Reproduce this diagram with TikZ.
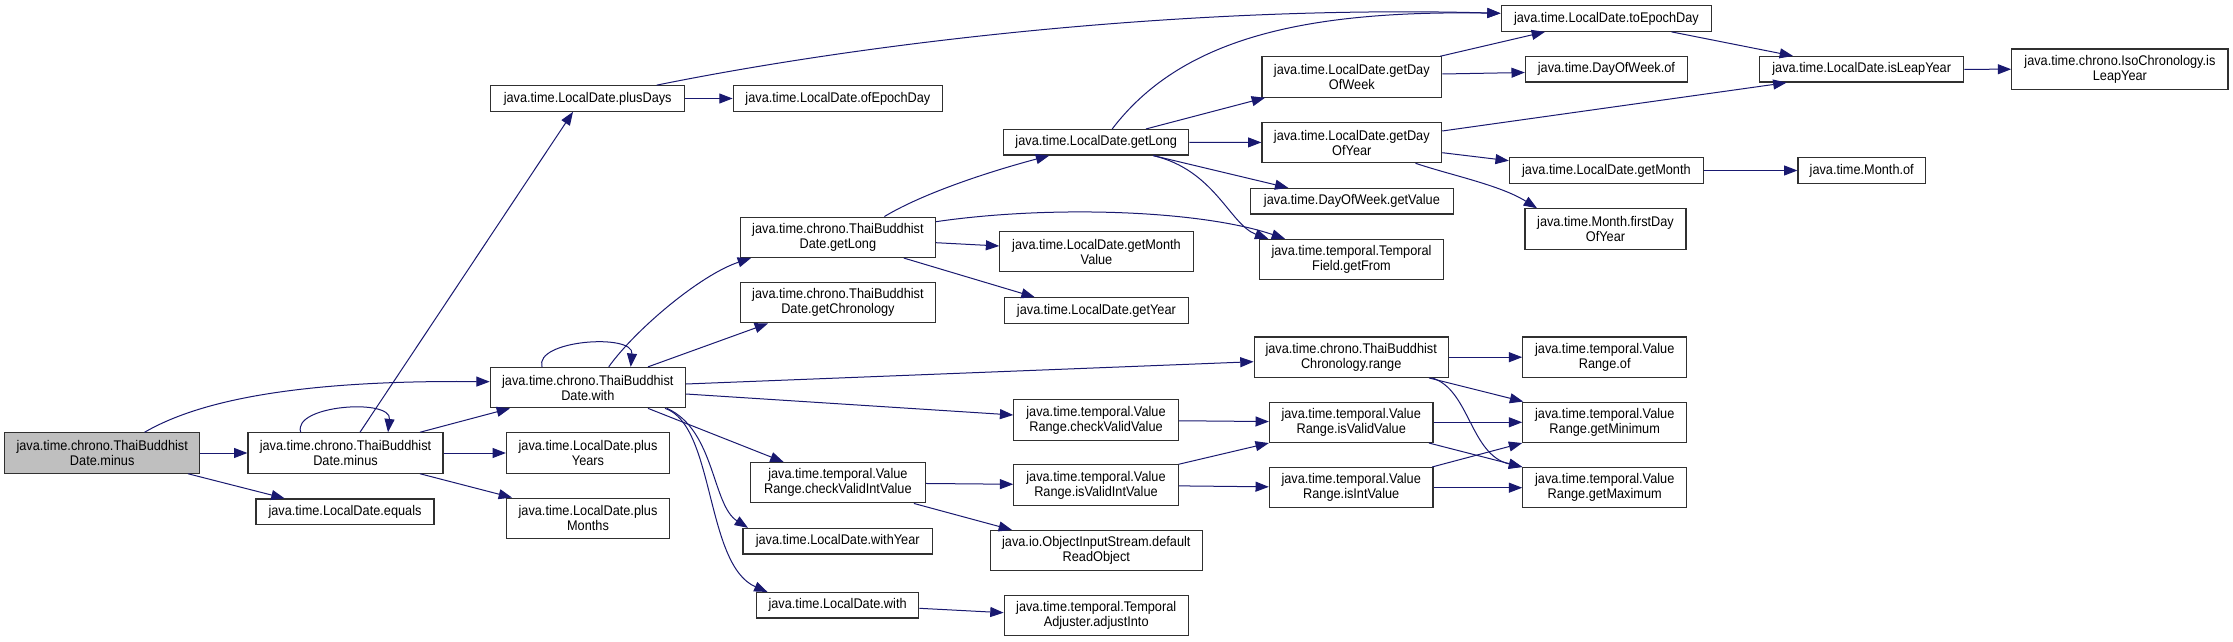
\documentclass[tikz,border=0pt]{standalone}
\usepackage{fontspec}
\setmainfont{Liberation Sans}[FakeStretch=0.91]
\usetikzlibrary{arrows.meta,calc}
\definecolor{edgec}{HTML}{191970}
\definecolor{boxc}{HTML}{303030}
\definecolor{rootc}{HTML}{BFBFBF}
\begin{document}
\begin{tikzpicture}[x=0.75pt,y=-0.75pt,
 box/.style={draw=boxc,line width=0.9pt,fill=white,inner sep=0pt,align=center,font=\fontsize{10.5}{11.25}\selectfont},
 bw/.style={minimum width=#1*0.75pt},
 lineone/.style={minimum height=25.5*0.75pt},
 linetwo/.style={minimum height=40.3*0.75pt},
 conn/.style={draw=edgec,line width=0.75pt,-{Triangle[length=10pt,width=7.5pt]}}
]
\useasboundingbox (0,0) rectangle (2233,642);
\fill[white] (0,0) rectangle (2233,642);

\node[box,bw=195.2,linetwo,fill=rootc] (m0) at (102.2,453) {java.time.chrono.ThaiBuddhist\\Date.minus};
\node[box,bw=195,linetwo] (m1) at (345.5,453) {java.time.chrono.ThaiBuddhist\\Date.minus};
\node[box,bw=178,lineone] (eq) at (345,511.7) {java.time.LocalDate.equals};
\node[box,bw=195,linetwo] (with) at (587.8,387.6) {java.time.chrono.ThaiBuddhist\\Date.with};
\node[box,bw=163,linetwo] (pY) at (588,453) {java.time.LocalDate.plus\\Years};
\node[box,bw=163,linetwo] (pM) at (588,518.3) {java.time.LocalDate.plus\\Months};
\node[box,bw=194,lineone] (pD) at (587.7,98.5) {java.time.LocalDate.plusDays};
\node[box,bw=209.4,lineone] (oED) at (837.9,98.5) {java.time.LocalDate.ofEpochDay};
\node[box,bw=194.8,linetwo] (tgl) at (837.9,237.3) {java.time.chrono.ThaiBuddhist\\Date.getLong};
\node[box,bw=194.8,linetwo] (gch) at (837.9,302.7) {java.time.chrono.ThaiBuddhist\\Date.getChronology};
\node[box,bw=175,linetwo] (cviv) at (837.9,482.7) {java.time.temporal.Value\\Range.checkValidIntValue};
\node[box,bw=189.6,lineone] (wy) at (837.7,541.2) {java.time.LocalDate.withYear};
\node[box,bw=162.5,lineone] (lwith) at (837.6,605.3) {java.time.LocalDate.with};
\node[box,bw=185,lineone] (lgl) at (1096.2,142.3) {java.time.LocalDate.getLong};
\node[box,bw=193.4,linetwo] (gmv) at (1096.5,251.7) {java.time.LocalDate.getMonth\\Value};
\node[box,bw=183.7,lineone] (gyr) at (1096.4,310.5) {java.time.LocalDate.getYear};
\node[box,bw=164.3,linetwo] (cvv) at (1096,420) {java.time.temporal.Value\\Range.checkValidValue};
\node[box,bw=164.3,linetwo] (iviv) at (1096,485) {java.time.temporal.Value\\Range.isValidIntValue};
\node[box,bw=212,linetwo] (dro) at (1096.3,550.7) {java.io.ObjectInputStream.default\\ReadObject};
\node[box,bw=184,linetwo] (adj) at (1096.2,615.7) {java.time.temporal.Temporal\\Adjuster.adjustInto};
\node[box,bw=179.7,linetwo] (gdw) at (1351.8,77) {java.time.LocalDate.getDay\\OfWeek};
\node[box,bw=179.7,linetwo] (gdy) at (1351.8,142.5) {java.time.LocalDate.getDay\\OfYear};
\node[box,bw=202.8,lineone] (dwv) at (1351.9,201.2) {java.time.DayOfWeek.getValue};
\node[box,bw=184,linetwo] (tfg) at (1351.5,259.5) {java.time.temporal.Temporal\\Field.getFrom};
\node[box,bw=194,linetwo] (rng) at (1351.2,357.2) {java.time.chrono.ThaiBuddhist\\Chronology.range};
\node[box,bw=163.5,linetwo] (ivv) at (1351.2,422.3) {java.time.temporal.Value\\Range.isValidValue};
\node[box,bw=163.5,linetwo] (iiv) at (1351.2,487.7) {java.time.temporal.Value\\Range.isIntValue};
\node[box,bw=210.5,lineone] (ted) at (1606.4,18.5) {java.time.LocalDate.toEpochDay};
\node[box,bw=162,lineone] (dwo) at (1606.4,69.3) {java.time.DayOfWeek.of};
\node[box,bw=194,lineone] (gmo) at (1606.4,170.5) {java.time.LocalDate.getMonth};
\node[box,bw=161,linetwo] (fdy) at (1605.5,229) {java.time.Month.firstDay\\OfYear};
\node[box,bw=163.8,linetwo] (vof) at (1604.7,357.2) {java.time.temporal.Value\\Range.of};
\node[box,bw=163.8,linetwo] (gmin) at (1604.7,422.3) {java.time.temporal.Value\\Range.getMinimum};
\node[box,bw=163.8,linetwo] (gmax) at (1604.7,487.7) {java.time.temporal.Value\\Range.getMaximum};
\node[box,bw=204,lineone] (ily) at (1861.7,69.3) {java.time.LocalDate.isLeapYear};
\node[box,bw=127.4,lineone] (mof) at (1861.7,170.5) {java.time.Month.of};
\node[box,bw=216.3,linetwo] (iso) at (2119.9,69.2) {java.time.chrono.IsoChronology.is\\LeapYear};

\draw[conn] ($(m0.north)+(42.4,0)$) .. controls (200,400) and (300,380) .. ($(with.west)+(0,-5.9)$);
\draw[conn] (m0) -- (m1);
\draw[conn] ($(m0.south)+(85.8,0)$) -- ($(eq.north)+(-60.4,0)$);
\draw[conn] ($(m1.north)+(-44.8,0)$) .. controls (292,405) and (392,398) .. ($(m1.north)+(42.5,0)$);
\draw[conn] ($(m1.north)+(14.5,0)$) -- ($(pD.south)+(-14.7,0)$);
\draw[conn] ($(m1.north)+(74.5,0)$) -- ($(with.south)+(-77.8,0)$);
\draw[conn] (m1) -- (pY);
\draw[conn] ($(m1.south)+(74.5,0)$) -- ($(pM.north)+(-76,0)$);
\draw[conn] ($(with.north)+(-45.8,0)$) .. controls (534,340) and (634,333) .. ($(with.north)+(42.9,0)$);
\draw[conn] ($(with.north)+(20.9,0)$) .. controls (635,330) and (700,275) .. ($(tgl.south)+(-86.9,0)$);
\draw[conn] ($(with.north)+(60.2,0)$) -- ($(gch.south)+(-69.9,0)$);
\draw[conn] ($(with.east)+(0,-3.6)$) -- ($(rng.west)+(0,4.5)$);
\draw[conn] ($(with.east)+(0,6.4)$) -- ($(cvv.west)+(0,-5)$);
\draw[conn] ($(with.south)+(60.2,0)$) -- ($(cviv.north)+(-54.3,0)$);
\draw[conn] ($(with.south)+(79.2,0)$) .. controls (715,430) and (712,505) .. ($(wy.north)+(-89.7,0)$);
\draw[conn] ($(with.south)+(77.2,0)$) .. controls (715,425) and (705,565) .. ($(lwith.north)+(-70.1,0)$);
\draw[conn] (pD) -- (oED);
\draw[conn] ($(pD.north)+(68.9,0)$) .. controls (880,40) and (1200,5) .. ($(ted.west)+(0,-5.2)$);
\draw[conn] ($(tgl.north)+(46.5,0)$) .. controls (925,192) and (995,170) .. ($(lgl.south)+(-47,0)$);
\draw[conn] ($(tgl.east)+(0,5.4)$) -- ($(gmv.west)+(0,-5.7)$);
\draw[conn] ($(tgl.south)+(65.9,0)$) -- ($(gyr.north)+(-61.7,0)$);
\draw[conn] ($(tgl.east)+(0,-15.6)$) .. controls (1050,205) and (1200,210) .. ($(tfg.north)+(-66.5,0)$);
\draw[conn] ($(lgl.north)+(16,0)$) .. controls (1180,40) and (1300,10) .. ($(ted.west)+(0,-5.2)$);
\draw[conn] ($(lgl.north)+(49.8,0)$) -- ($(gdw.south)+(-86.8,0)$);
\draw[conn] (lgl) -- (gdy);
\draw[conn] ($(lgl.south)+(57.2,0)$) -- ($(dwv.north)+(-63.6,0)$);
\draw[conn] ($(lgl.south)+(57,0)$) .. controls (1215,170) and (1230,225) .. ($(tfg.north)+(-83.2,0)$);
\draw[conn] ($(gdw.north east)+(-2,0)$) -- ($(ted.south)+(-61.4,0)$);
\draw[conn] ($(gdw.east)+(0,-3)$) -- ($(dwo.west)+(0,3.2)$);
\draw[conn] ($(gdy.east)+(0,-11.5)$) -- ($(ily.south)+(-75.2,0)$);
\draw[conn] ($(gdy.east)+(0,10.2)$) -- ($(gmo.west)+(0,-9.8)$);
\draw[conn] ($(gdy.south)+(63.7,0)$) .. controls (1450,175) and (1500,185) .. ($(fdy.north)+(-68.5,0)$);
\draw[conn] ($(ted.south)+(65,0)$) -- ($(ily.north)+(-68.7,0)$);
\draw[conn] (ily) -- (iso);
\draw[conn] (gmo) -- (mof);
\draw[conn] (rng) -- (vof);
\draw[conn] ($(rng.south)+(77.8,0)$) -- ($(gmin.north west)+(1,0)$);
\draw[conn] ($(rng.south)+(81.1,0)$) .. controls (1470,390) and (1470,455) .. (gmax.north west);
\draw[conn] (cvv) -- (ivv);
\draw[conn] (cviv) -- (iviv);
\draw[conn] ($(cviv.south)+(76,0)$) -- ($(dro.north)+(-84.3,0)$);
\draw[conn] (iviv.north east) -- (ivv.south west);
\draw[conn] (iviv) -- (iiv);
\draw[conn] (ivv) -- (gmin);
\draw[conn] ($(ivv.south)+(77.8,0)$) -- (gmax.north west);
\draw[conn] ($(iiv.north)+(81,0)$) -- (gmin.south west);
\draw[conn] (iiv) -- (gmax);
\draw[conn] ($(lwith.east)+(0,3)$) -- ($(adj.west)+(0,-3)$);
\end{tikzpicture}
\end{document}
